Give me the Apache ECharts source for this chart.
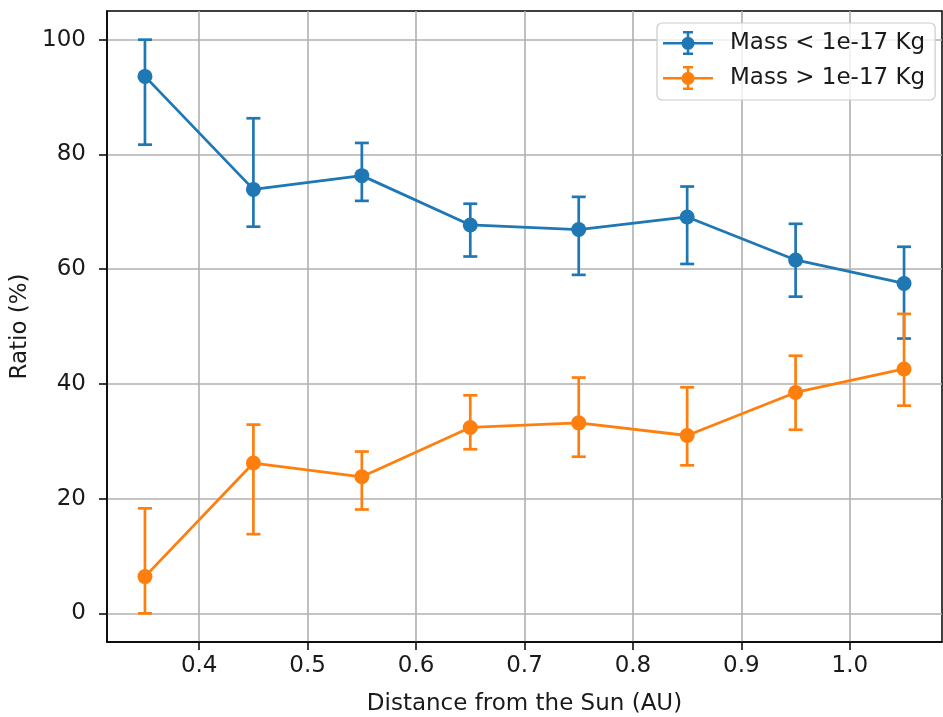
<!DOCTYPE html>
<html>
<head>
<meta charset="utf-8">
<script src="https://cdn.jsdelivr.net/npm/echarts@6/dist/echarts.min.js"></script>
<style>
  html, body { margin: 0; padding: 0; background: #fff; }
  #chart { width: 943px; height: 717px; }
</style>
</head>
<body>
<div id="chart"></div>
<script>
var distance = [0.35, 0.45, 0.55, 0.65, 0.75, 0.85, 0.95, 1.05];

var smallRatio = [93.6, 73.9, 76.3, 67.7, 66.9, 69.1, 61.6, 57.5];
var smallUpper = [100.0, 86.3, 82.0, 71.4, 72.6, 74.4, 67.9, 63.9];
var smallLower = [81.7, 67.4, 71.9, 62.2, 59.0, 60.9, 55.2, 47.9];

var largeRatio = [6.4, 26.2, 23.8, 32.4, 33.2, 31.0, 38.5, 42.6];
var largeUpper = [18.3, 32.9, 28.2, 38.0, 41.1, 39.4, 44.9, 52.2];
var largeLower = [0.0, 13.8, 18.1, 28.6, 27.3, 25.8, 32.0, 36.2];

var xTicks = [0.4, 0.5, 0.6, 0.7, 0.8, 0.9, 1.0];
var yTicks = [0, 20, 40, 60, 80, 100];

var blue = '#1f77b4';
var orange = '#ff7f0e';
var font = 'DejaVu Sans';
var textColor = '#1a1a1a';

// legend icon: horizontal line + error bar with caps + dot
var errIcon = 'path://M0 11h50v2.6H0z M23.7 1h2.6v22h-2.6z M20 0h10v2.4H20z M20 21.6h10v2.4H20z M31.5 12.3a6.5 6.5 0 1 1 -13 0a6.5 6.5 0 1 1 13 0z';

function pairs(xs, ys) {
  return xs.map(function (x, i) { return [x, ys[i]]; });
}

function errorSeries(color, lower, upper, z) {
  return {
    type: 'custom',
    z: z,
    silent: true,
    data: distance.map(function (x, i) { return [x, lower[i], upper[i]]; }),
    encode: { x: 0, y: [1, 2] },
    renderItem: function (params, api) {
      var lo = api.coord([api.value(0), api.value(1)]);
      var hi = api.coord([api.value(0), api.value(2)]);
      var cap = 7;
      var st = { stroke: color, lineWidth: 2.7 };
      return {
        type: 'group',
        children: [
          { type: 'line', shape: { x1: lo[0], y1: lo[1], x2: hi[0], y2: hi[1] }, style: st },
          { type: 'line', shape: { x1: hi[0] - cap, y1: hi[1], x2: hi[0] + cap, y2: hi[1] }, style: st },
          { type: 'line', shape: { x1: lo[0] - cap, y1: lo[1], x2: lo[0] + cap, y2: lo[1] }, style: st }
        ]
      };
    }
  };
}

function lineSeries(name, color, values, z) {
  return {
    name: name,
    type: 'line',
    z: z,
    data: pairs(distance, values),
    symbol: 'circle',
    symbolSize: 15,
    showSymbol: true,
    itemStyle: { color: color },
    lineStyle: { color: color, width: 2.8 },
    emphasis: { disabled: true },
    animation: false
  };
}

var chart = echarts.init(document.getElementById('chart'));

var option = {
  animation: false,
  grid: {
    left: 107, right: 1, top: 11, bottom: 75,
    outerBoundsMode: 'none',
    containLabel: false,
    show: true, borderColor: '#000', borderWidth: 1.5
  },
  legend: {
    orient: 'vertical',
    left: 657, top: 23,
    padding: [8, 10, 10, 6],
    itemGap: 11,
    itemWidth: 50, itemHeight: 24,
    backgroundColor: 'rgba(255,255,255,0.8)',
    borderColor: '#cccccc', borderWidth: 1.2, borderRadius: 5,
    textStyle: { fontFamily: font, fontSize: 23, color: textColor, padding: [0, 0, 0, 12] },
    data: [
      { name: 'Mass < 1e-17 Kg', icon: errIcon },
      { name: 'Mass > 1e-17 Kg', icon: errIcon }
    ]
  },
  xAxis: {
    type: 'value',
    min: 0.315, max: 1.085,
    name: 'Distance from the Sun (AU)',
    nameLocation: 'middle',
    nameGap: 51,
    nameTextStyle: { fontFamily: font, fontSize: 23, color: textColor },
    axisLine: { show: true, onZero: false, lineStyle: { color: '#000', width: 1.5 } },
    axisTick: { show: true, length: 8, lineStyle: { color: '#000', width: 1.5 }, customValues: xTicks },
    axisLabel: {
      fontFamily: font, fontSize: 23, color: textColor, margin: 13,
      customValues: xTicks,
      formatter: function (v) { return v.toFixed(1); }
    },
    splitLine: { show: true, lineStyle: { color: '#b0b0b0', width: 1.6 } }
  },
  yAxis: {
    type: 'value',
    min: -5, max: 105,
    name: 'Ratio (%)',
    nameLocation: 'middle',
    nameGap: 69,
    nameTextStyle: { fontFamily: font, fontSize: 23, color: textColor },
    axisLine: { show: true, onZero: false, lineStyle: { color: '#000', width: 1.5 } },
    axisTick: { show: true, length: 8, lineStyle: { color: '#000', width: 1.5 }, customValues: yTicks },
    axisLabel: {
      fontFamily: font, fontSize: 23, color: textColor, margin: 21,
      customValues: yTicks
    },
    splitLine: { show: true, lineStyle: { color: '#b0b0b0', width: 1.6 } }
  },
  series: [
    errorSeries(blue, smallLower, smallUpper, 2),
    lineSeries('Mass < 1e-17 Kg', blue, smallRatio, 3),
    errorSeries(orange, largeLower, largeUpper, 4),
    lineSeries('Mass > 1e-17 Kg', orange, largeRatio, 5)
  ]
};

chart.setOption(option);
</script>
</body>
</html>
